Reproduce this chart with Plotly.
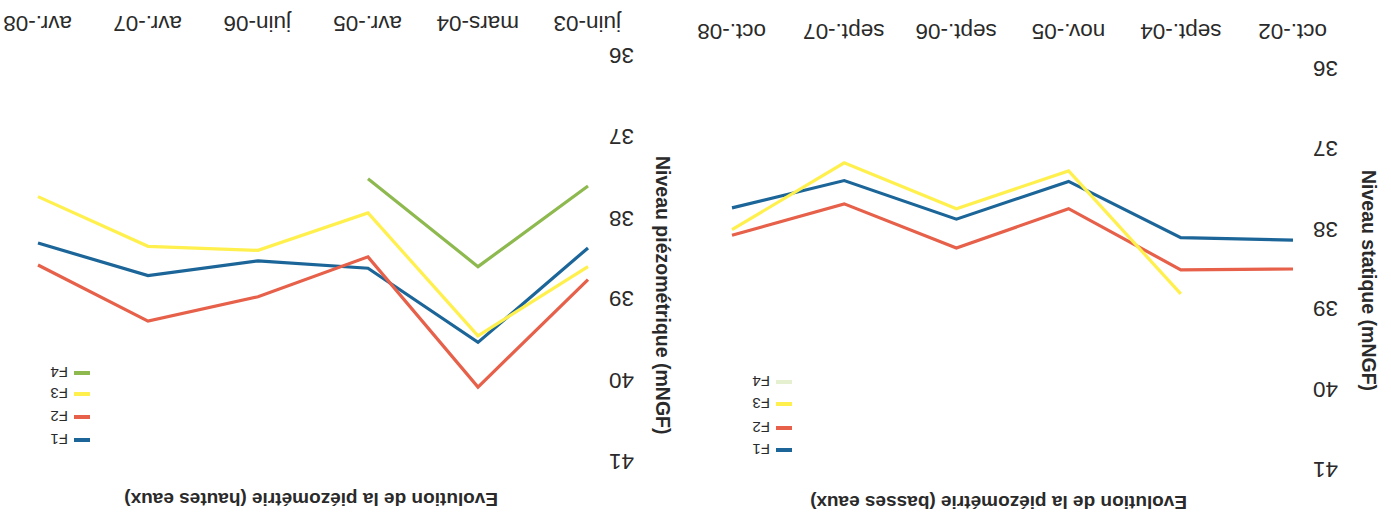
import plotly.graph_objects as go

W, H = 1391, 520

# ---- data ----
haut_cats = ["juin-03", "mars-04", "avr.-05", "juin-06", "avr.-07", "avr.-08"]
haut_F1 = [38.37, 39.53, 38.62, 38.53, 38.71, 38.31]
haut_F2 = [38.76, 40.08, 38.48, 38.97, 39.27, 38.58]
haut_F3 = [38.60, 39.45, 37.94, 38.40, 38.35, 37.74]
haut_F4 = [37.61, 38.60, 37.52, None, None, None]

bas_cats = ["oct.-02", "sept.-04", "nov.-05", "sept.-06", "sept.-07", "oct.-08"]
bas_F1 = [38.14, 38.11, 37.41, 37.88, 37.40, 37.74]
bas_F2 = [38.50, 38.51, 37.75, 38.24, 37.69, 38.08]
bas_F3 = [None, 38.81, 37.28, 37.75, 37.18, 38.01]
bas_F4 = [None, None, None, None, None, None]

y_ticks = [36, 37, 38, 39, 40, 41]
series_names = ["F1", "F2", "F3", "F4"]
colors = ["#1b6598", "#e6604a", "#fff04e", "#8db94f"]
bas_legend_colors = ["#1b6598", "#e6604a", "#fff04e", "#e4f0d0"]

title_haut = "Evolution de la piézométrie (hautes eaux)"
title_bas = "Evolution de la piézométrie (basses eaux)"
ytitle_haut = "Niveau piézométrique (mNGF)"
ytitle_bas = "Niveau statique (mNGF)"

OFF = 0  # body margin removed by post_script


def px(x):
    return (x - OFF) / W


def py(y):
    return 1 - (y - OFF) / H


FONT = "Liberation Sans, Arial, sans-serif"
TXT = "#2a2a2a"

fig = go.Figure()

haut_series = [haut_F1, haut_F2, haut_F3, haut_F4]
bas_series = [bas_F1, bas_F2, bas_F3, bas_F4]

for name, vals, col in zip(series_names, haut_series, colors):
    fig.add_trace(go.Scatter(x=haut_cats, y=vals, mode="lines", name=name,
                             line=dict(color=col, width=3.2), connectgaps=False,
                             xaxis="x", yaxis="y", showlegend=False))
for name, vals, col in zip(series_names, bas_series, colors):
    fig.add_trace(go.Scatter(x=bas_cats, y=vals, mode="lines", name=name,
                             line=dict(color=col, width=3.2), connectgaps=False,
                             xaxis="x2", yaxis="y2", showlegend=False))

common_x = dict(type="category", showticklabels=False, showgrid=False,
                zeroline=False, showline=False, ticks="")
common_y = dict(showticklabels=False, showgrid=False, zeroline=False,
                showline=False, ticks="", range=[41, 36])

# left panel: category centers at 588 ... 38 px (spacing 110)
pad_l = 8 / 110
# right panel: category centers at 1293 ... 732 px (spacing 112.2)
pad_r = 8 / 112.2

fig.update_layout(
    width=W, height=H,
    margin=dict(l=0, r=0, t=0, b=0),
    paper_bgcolor="white", plot_bgcolor="white",
    xaxis=dict(common_x, categoryarray=haut_cats, categoryorder="array",
               domain=[px(30), px(596)], range=[5 + pad_l, -pad_l], anchor="y"),
    yaxis=dict(common_y, domain=[py(462), py(55)], anchor="x"),
    xaxis2=dict(common_x, categoryarray=bas_cats, categoryorder="array",
                domain=[px(724), px(1301)], range=[5 + pad_r, -pad_r], anchor="y2"),
    yaxis2=dict(common_y, domain=[py(470), py(68)], anchor="x2"),
)

TICK = 22.5
ann = []
# y tick labels (upside down)
for v in y_ticks:
    ann.append(dict(xref="paper", yref="y", x=px(607), y=v, text=str(v),
                    xanchor="left", yanchor="middle", textangle=180, showarrow=False,
                    font=dict(family=FONT, size=TICK, color=TXT)))
    ann.append(dict(xref="paper", yref="y2", x=px(1311), y=v, text=str(v),
                    xanchor="left", yanchor="middle", textangle=180, showarrow=False,
                    font=dict(family=FONT, size=TICK, color=TXT)))
# x tick labels (upside down, at top)
for c in haut_cats:
    ann.append(dict(xref="x", yref="paper", x=c, y=py(23), text=c,
                    xanchor="center", yanchor="middle", textangle=180, showarrow=False,
                    font=dict(family=FONT, size=TICK, color=TXT)))
for c in bas_cats:
    ann.append(dict(xref="x2", yref="paper", x=c, y=py(32), text=c,
                    xanchor="center", yanchor="middle", textangle=180, showarrow=False,
                    font=dict(family=FONT, size=TICK, color=TXT)))
# axis titles
ann.append(dict(xref="paper", yref="paper", x=px(663), y=py(295), text="<b>%s</b>" % ytitle_haut,
                textangle=90, showarrow=False, xanchor="center", yanchor="middle",
                font=dict(family=FONT, size=19.5, color=TXT)))
ann.append(dict(xref="paper", yref="paper", x=px(1369), y=py(280), text="<b>%s</b>" % ytitle_bas,
                textangle=90, showarrow=False, xanchor="center", yanchor="middle",
                font=dict(family=FONT, size=19.5, color=TXT)))
# chart titles (bottom, upside down)
ann.append(dict(xref="paper", yref="paper", x=px(311), y=py(500), text="<b>%s</b>" % title_haut,
                textangle=180, showarrow=False, xanchor="center", yanchor="middle",
                font=dict(family=FONT, size=19, color=TXT)))
ann.append(dict(xref="paper", yref="paper", x=px(999), y=py(503), text="<b>%s</b>" % title_bas,
                textangle=180, showarrow=False, xanchor="center", yanchor="middle",
                font=dict(family=FONT, size=19, color=TXT)))

# legends (drawn upside down: F4 on top)
shapes = []
leg_left_rows = {"F1": 440, "F2": 417, "F3": 394, "F4": 373}
leg_right_rows = {"F1": 450, "F2": 428, "F3": 404, "F4": 382}
for name, col in zip(series_names, colors):
    yy = leg_left_rows[name]
    shapes.append(dict(type="line", xref="paper", yref="paper",
                       x0=px(74), x1=px(90), y0=py(yy), y1=py(yy),
                       line=dict(color=col, width=4)))
    ann.append(dict(xref="paper", yref="paper", x=px(70), y=py(yy), text=name,
                    xanchor="right", yanchor="middle", textangle=180, showarrow=False,
                    font=dict(family=FONT, size=15, color=TXT)))
for name, col in zip(series_names, bas_legend_colors):
    yy = leg_right_rows[name]
    shapes.append(dict(type="line", xref="paper", yref="paper",
                       x0=px(776), x1=px(792), y0=py(yy), y1=py(yy),
                       line=dict(color=col, width=4)))
    ann.append(dict(xref="paper", yref="paper", x=px(772), y=py(yy), text=name,
                    xanchor="right", yanchor="middle", textangle=180, showarrow=False,
                    font=dict(family=FONT, size=15, color=TXT)))

fig.update_layout(annotations=ann, shapes=shapes)
fig.write_html("out.html",
               config={"displayModeBar": False},
               post_script="document.body.style.margin='0px';document.body.style.padding='0px';")
